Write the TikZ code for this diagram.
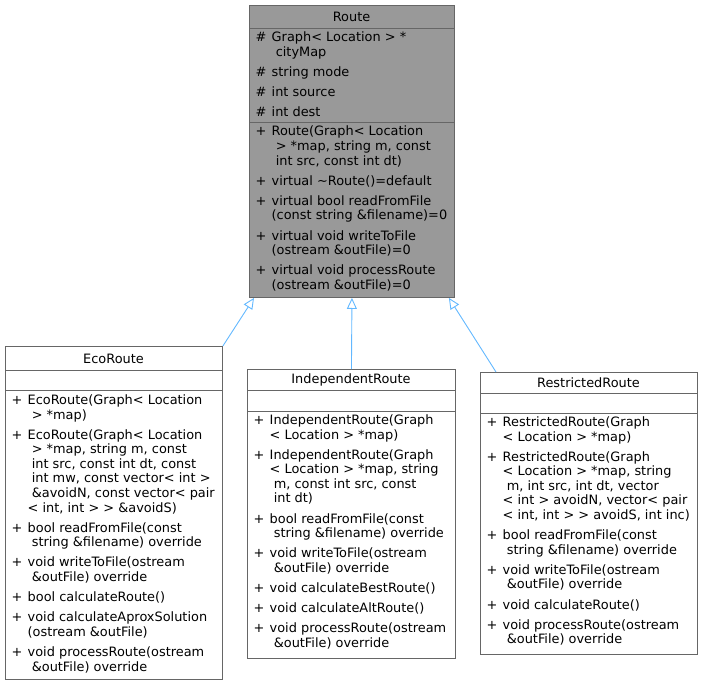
\documentclass[tikz,border=0pt]{standalone}
\usepackage{fontspec}
\setmainfont{DejaVu Sans}
\usetikzlibrary{arrows.meta,calc}
\definecolor{edgeblue}{HTML}{63B8FF}
\definecolor{boxline}{HTML}{666666}
\definecolor{basefill}{HTML}{999999}
% member-list helpers: visibility marker column, continuation lines, gap between members
\newcommand\mk[1]{\strut\makebox[16pt][l]{#1}}
\newcommand\pub{\mk{+}}
\newcommand\pro{\mk{\#}}
\newcommand\cont{\mk{}}
\newcommand\gap{\\[5.5pt]}
\begin{document}
\begin{tikzpicture}[x=1pt,y=1pt,
  every node/.style={font=\fontsize{12.9}{14.6}\selectfont, text=black},
  cls/.style={draw=boxline, line width=0.9pt, fill=white, inner sep=0pt, anchor=north west},
  sep/.style={draw=boxline, line width=0.9pt},
  title/.style={inner sep=0pt},
  members/.style={inner sep=0pt, anchor=north west},
  inherit/.style={draw=edgeblue, line width=0.9pt, -{Triangle[open,length=11pt,width=10pt]}}]
\useasboundingbox (0,0) rectangle (703,-684);

% ---------- Route (abstract base) ----------
\node[cls, fill=basefill, minimum width=205pt, minimum height=292pt] (route) at (249,-5) {};
\draw[sep] (249,-28) -- (454,-28);
\draw[sep] (249,-122) -- (454,-122);
\node[title] (routeT) at (351.5,-16.5) {Route};
\node[members] (routeA) at (255.5,-31.5) {\begin{tabular}{@{}l@{}}
\pro Graph< Location > *\\
\cont\ cityMap\gap
\pro string mode\gap
\pro int source\gap
\pro int dest
\end{tabular}};
\node[members] (routeM) at (255.5,-125.5) {\begin{tabular}{@{}l@{}}
\pub Route(Graph< Location\\
\cont\ > *map, string m, const\\
\cont\ int src, const int dt)\gap
\pub virtual \textasciitilde Route()=default\gap
\pub virtual bool readFromFile\\
\cont (const string \&filename)=0\gap
\pub virtual void writeToFile\\
\cont (ostream \&outFile)=0\gap
\pub virtual void processRoute\\
\cont (ostream \&outFile)=0
\end{tabular}};

% ---------- EcoRoute ----------
\node[cls, minimum width=217pt, minimum height=333pt] (eco) at (5,-346) {};
\draw[sep] (5,-370) -- (222,-370);
\draw[sep] (5,-390) -- (222,-390);
\node[title] (ecoT) at (113.5,-358.5) {EcoRoute};
\node[members] (ecoM) at (11.5,-394) {\begin{tabular}{@{}l@{}}
\pub EcoRoute(Graph< Location\\
\cont\ > *map)\gap
\pub EcoRoute(Graph< Location\\
\cont\ > *map, string m, const\\
\cont\ int src, const int dt, const\\
\cont\ int mw, const vector< int >\\
\cont\ \&avoidN, const vector< pair\\
\cont < int, int > > \&avoidS)\gap
\pub bool readFromFile(const\\
\cont\ string \&filename) override\gap
\pub void writeToFile(ostream\\
\cont\ \&outFile) override\gap
\pub bool calculateRoute()\gap
\pub void calculateAproxSolution\\
\cont (ostream \&outFile)\gap
\pub void processRoute(ostream\\
\cont\ \&outFile) override
\end{tabular}};

% ---------- IndependentRoute ----------
\node[cls, minimum width=208pt, minimum height=289pt] (indep) at (247,-369) {};
\draw[sep] (247,-390) -- (455,-390);
\draw[sep] (247,-411) -- (455,-411);
\node[title] (indepT) at (351,-380) {IndependentRoute};
\node[members] (indepM) at (253.5,-414) {\begin{tabular}{@{}l@{}}
\pub IndependentRoute(Graph\\
\cont < Location > *map)\gap
\pub IndependentRoute(Graph\\
\cont < Location > *map, string\\
\cont\ m, const int src, const\\
\cont\ int dt)\gap
\pub bool readFromFile(const\\
\cont\ string \&filename) override\gap
\pub void writeToFile(ostream\\
\cont\ \&outFile) override\gap
\pub void calculateBestRoute()\gap
\pub void calculateAltRoute()\gap
\pub void processRoute(ostream\\
\cont\ \&outFile) override
\end{tabular}};

% ---------- RestrictedRoute ----------
\node[cls, minimum width=217pt, minimum height=282pt] (restr) at (480,-372) {};
\draw[sep] (480,-393) -- (697,-393);
\draw[sep] (480,-413) -- (697,-413);
\node[title] (restrT) at (588.5,-383) {RestrictedRoute};
\node[members] (restrM) at (486.5,-416) {\begin{tabular}{@{}l@{}}
\pub RestrictedRoute(Graph\\
\cont < Location > *map)\gap
\pub RestrictedRoute(Graph\\
\cont < Location > *map, string\\
\cont\ m, int src, int dt, vector\\
\cont < int > avoidN, vector< pair\\
\cont < int, int > > avoidS, int inc)\gap
\pub bool readFromFile(const\\
\cont\ string \&filename) override\gap
\pub void writeToFile(ostream\\
\cont\ \&outFile) override\gap
\pub void calculateRoute()\gap
\pub void processRoute(ostream\\
\cont\ \&outFile) override
\end{tabular}};

% ---------- generalisation edges ----------
\draw[inherit] (eco.north east) -- ($(route.south west)+(5,0)$);
\draw[inherit] (indep.north) -- (route.south);
\draw[inherit] ($(restr.north west)+(16,0)$) -- ($(route.south east)+(-6,0)$);
\end{tikzpicture}
\end{document}
